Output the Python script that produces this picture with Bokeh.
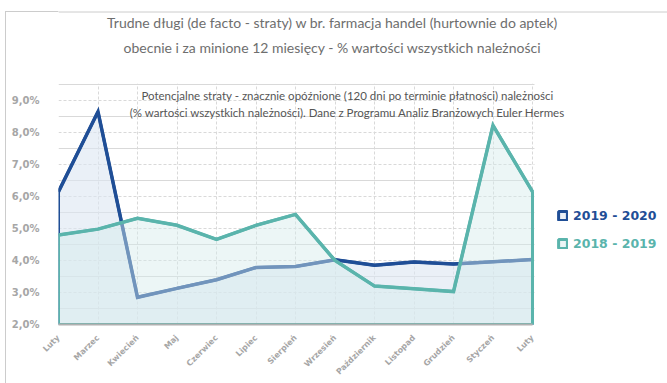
import math
from bokeh.plotting import figure
from bokeh.models import (Range1d, FixedTicker, Label, Legend, LegendItem,
                          BoxAnnotation, Span)
from bokeh.embed import file_html
from bokeh.resources import INLINE

months = ["Luty", "Marzec", "Kwiecień", "Maj", "Czerwiec", "Lipiec", "Sierpień",
          "Wrzesień", "Październik", "Listopad", "Grudzień", "Styczeń", "Luty"]
s_2019_2020 = [6.15, 8.65, 2.85, 3.13, 3.40, 3.78, 3.81, 4.02, 3.85, 3.95, 3.89, 3.96, 4.03]
s_2018_2019 = [4.80, 4.98, 5.32, 5.10, 4.66, 5.10, 5.44, 4.00, 3.20, 3.12, 3.03, 8.22, 6.15]
y_ticks = [2, 3, 4, 5, 6, 7, 8, 9]
y_tick_labels = ["2,0%", "3,0%", "4,0%", "5,0%", "6,0%", "7,0%", "8,0%", "9,0%"]
series_names = ["2019 - 2020", "2018 - 2019"]
title_lines = ["Trudne długi (de facto - straty) w br. farmacja handel (hurtownie do aptek)",
               "obecnie i za minione 12 miesięcy - % wartości wszystkich należności"]
note_lines = ["Potencjalne straty - znacznie opóźnione (120 dni po terminie płatności) należności",
              "(% wartości wszystkich należności). Dane z Programu Analiz Branżowych Euler Hermes"]

BLUE = "#1f4e96"
TEAL = "#5ab4ac"
GRID = "#d9d9d9"
LABEL = "#a6a6a6"
BORDER = "#cccccc"

xs = list(range(len(months)))
y_min, y_max = 2.0, 9.5
x_last = len(months) - 1

# the frame spans the canvas right of the y labels; the chart area is x 0..12, y 2..9.5
W, H = 667, 383
left_px, bottom_px = 58, 59
px_per_x = 39.5
px_per_y = 32.0
x_end = (W - left_px) / px_per_x
y_end = y_min + (H - bottom_px) / px_per_y

p = figure(width=W, height=H, output_backend="svg", toolbar_location=None,
           x_range=Range1d(0, x_end), y_range=Range1d(y_min, y_end),
           min_border_left=left_px, min_border_right=0, min_border_top=0,
           min_border_bottom=bottom_px)
p.outline_line_color = None
p.background_fill_color = "white"
p.border_fill_color = None
# outer chart frame (left and top edges) drawn behind the transparent border area
p.styles = {"background": (f"linear-gradient({BORDER},{BORDER}) 5px 11px / 1px 100% no-repeat, "
                           f"linear-gradient({BORDER},{BORDER}) 5px 11px / 100% 1px no-repeat, white")}

p.xaxis.ticker = FixedTicker(ticks=xs)
p.xaxis.major_label_overrides = {i: m for i, m in enumerate(months)}
p.xaxis.bounds = (0, x_last)
p.yaxis.ticker = FixedTicker(ticks=y_ticks,
                             minor_ticks=[t + 0.5 for t in y_ticks])
p.yaxis.major_label_overrides = {t: l for t, l in zip(y_ticks, y_tick_labels)}
p.yaxis.bounds = (y_min, y_max)

p.ygrid.grid_line_color = GRID
p.ygrid.grid_line_dash = "3 2"
p.ygrid.minor_grid_line_color = GRID
p.ygrid.minor_grid_line_width = 1
p.xgrid.grid_line_color = GRID
p.xgrid.grid_line_dash = "3 2"

for ax in (p.xaxis, p.yaxis):
    ax.major_tick_line_color = None
    ax.minor_tick_line_color = None
    ax.major_label_text_font = "DejaVu Sans"
    ax.major_label_text_font_style = "bold"
    ax.major_label_text_color = LABEL
p.yaxis.axis_line_color = None
p.yaxis.major_label_text_font_size = "10px"
p.yaxis.major_label_standoff = 13
p.xaxis.axis_line_color = "#b0b0b0"
p.xaxis.axis_line_width = 2
p.xaxis.major_label_text_font_size = "8px"
p.xaxis.major_label_orientation = math.pi / 4
p.xaxis.major_label_standoff = 6

a1 = p.patch(xs + [xs[-1], xs[0]], s_2019_2020 + [y_min, y_min],
             fill_color="#dce6f2", fill_alpha=0.6, line_color=BLUE, line_width=3)
p.line(xs, s_2019_2020, line_color=BLUE, line_width=3.5, line_join="miter")
a2 = p.patch(xs + [xs[-1], xs[0]], s_2018_2019 + [y_min, y_min],
             fill_color="#d4ecec", fill_alpha=0.45, line_color=TEAL, line_width=3)
p.line(xs, s_2018_2019, line_color=TEAL, line_width=3.5, line_join="miter")

# hide grid lines outside the chart area (right of last month, above 9.5%)
p.add_layout(BoxAnnotation(left=x_last + 0.05, fill_color="white", fill_alpha=1,
                           line_color=None))
p.add_layout(BoxAnnotation(bottom=y_max + 0.02, right=x_last + 0.05,
                           fill_color="white", fill_alpha=1, line_color=None))
# top edge of the outer chart frame
p.add_layout(Span(location=y_end - 11.5 / px_per_y, dimension="width",
                  line_color=BORDER, line_width=1))

for r, name, col, ypos in ((a1, series_names[0], BLUE, 101), (a2, series_names[1], TEAL, 73)):
    lg = Legend(items=[LegendItem(label=name, renderers=[r])], location=(499, ypos),
                border_line_color=None, background_fill_alpha=0, padding=0,
                margin=0, glyph_width=11, glyph_height=11, label_standoff=5,
                label_text_font="DejaVu Sans", label_text_font_style="bold",
                label_text_font_size="12.5px", label_text_color=col)
    p.add_layout(lg)

# screen units here are measured from the frame's bottom-left corner
frame_h = H - bottom_px
for i, t in enumerate(title_lines):
    p.add_layout(Label(x=332 - left_px, y=frame_h - 22 - 25 * i,
                       x_units="screen", y_units="screen",
                       text=t, text_align="center", text_baseline="middle",
                       text_font="Lato", text_font_size="14px",
                       text_color="#6e6e6e"))
for i, t in enumerate(note_lines):
    p.add_layout(Label(x=347 - left_px, y=frame_h - 95 - 17 * i,
                       x_units="screen", y_units="screen",
                       text=t, text_align="center", text_baseline="middle",
                       text_font="Lato", text_font_size="11.5px",
                       text_color="#555555"))

open("out.html", "w").write(file_html(p, INLINE))
